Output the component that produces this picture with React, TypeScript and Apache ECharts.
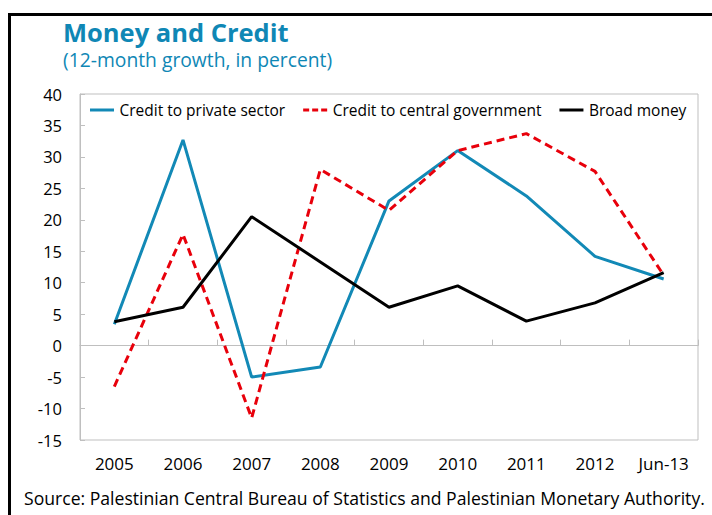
import React, { useEffect, useRef } from "react";
import * as echarts from "echarts";

const categories = ["2005", "2006", "2007", "2008", "2009", "2010", "2011", "2012", "Jun-13"];
const privateCredit = [3.4, 32.7, -5.0, -3.4, 23.0, 31.0, 23.8, 14.2, 10.6];
const govCredit = [-6.5, 17.7, -11.5, 28.0, 21.5, 31.0, 33.7, 27.7, 11.2];
const broadMoney = [3.8, 6.1, 20.5, 13.3, 6.1, 9.5, 3.9, 6.8, 11.6];
const yTicks = { min: -15, max: 40, interval: 5 };

const FONT = "'Open Sans', 'Noto Sans', sans-serif";
const SOLID_ICON = "path://M0,0H24V3H0Z";
const DASH_ICON = "path://M0,0H6V3H0Z M9,0H15V3H9Z M18,0H24V3H18Z";

export default function App() {
  const ref = useRef<HTMLDivElement>(null);
  useEffect(() => {
    if (!ref.current) return;
    const chart = echarts.init(ref.current, null, { renderer: "svg" });
    chart.setOption({
      animation: false,
      backgroundColor: "#fff",
      textStyle: { fontFamily: FONT },
      title: [
        {
          text: "Money and Credit",
          left: 63,
          top: 19,
          padding: 0,
          textStyle: { fontFamily: FONT, fontSize: 25.5, fontWeight: "bold", color: "#0F87B5" },
        },
        {
          text: "(12-month growth, in percent)",
          left: 63,
          top: 50,
          padding: 0,
          textStyle: { fontFamily: FONT, fontSize: 19.3, fontWeight: "normal", color: "#0F87B5" },
        },
        {
          text: "Source: Palestinian Central Bureau of Statistics and Palestinian Monetary Authority.",
          left: 19,
          top: 484,
          textStyle: { fontFamily: FONT, fontSize: 17.6, fontWeight: "normal", color: "#000" },
        },
      ],
      graphic: [
        {
          type: "rect",
          shape: { x: 9.5, y: 14.5, width: 720, height: 520 },
          style: { fill: "none", stroke: "#000", lineWidth: 3 },
          silent: true,
        },
      ],
      legend: {
        left: 85,
        top: 97,
        itemWidth: 25,
        itemHeight: 3,
        itemGap: 18,
        itemStyle: { borderWidth: 0 },
        textStyle: { fontFamily: FONT, fontSize: 15.5, color: "#000" },
        data: [
          { name: "Credit to private sector", icon: SOLID_ICON },
          { name: "Credit to central government", icon: DASH_ICON },
          { name: "Broad money", icon: SOLID_ICON },
        ],
      },
      grid: {
        left: 80,
        top: 94,
        right: 14,
        bottom: 75,
        show: true,
        borderColor: "#BFBFBF",
        borderWidth: 1,
      },
      xAxis: [
        {
          type: "category",
          data: categories,
          position: "bottom",
          axisLine: { show: false, onZero: false },
          axisTick: { show: false },
          axisLabel: { color: "#000", fontSize: 17, fontFamily: FONT, margin: 15 },
        },
        {
          type: "category",
          data: categories,
          position: "bottom",
          axisLine: { show: true, onZero: true, lineStyle: { color: "#BFBFBF", width: 1 } },
          axisTick: { show: true, inside: true, length: 6, lineStyle: { color: "#BFBFBF" } },
          axisLabel: { show: false },
        },
      ],
      yAxis: {
        type: "value",
        min: yTicks.min,
        max: yTicks.max,
        interval: yTicks.interval,
        axisLine: { show: true, lineStyle: { color: "#BFBFBF" } },
        axisTick: { show: true, inside: true, length: 5, lineStyle: { color: "#BFBFBF" } },
        splitLine: { show: false },
        axisLabel: { color: "#000", fontSize: 16.5, fontFamily: FONT, margin: 18 },
      },
      series: [
        {
          name: "Credit to private sector",
          type: "line",
          data: privateCredit,
          symbol: "none",
          lineStyle: { color: "#1289B6", width: 3 },
          itemStyle: { color: "#1289B6" },
        },
        {
          name: "Credit to central government",
          type: "line",
          data: govCredit,
          symbol: "none",
          lineStyle: { color: "#E8000B", width: 3, type: [8, 5] },
          itemStyle: { color: "#E8000B" },
        },
        {
          name: "Broad money",
          type: "line",
          data: broadMoney,
          symbol: "none",
          lineStyle: { color: "#000", width: 3 },
          itemStyle: { color: "#000" },
        },
      ],
    });
    return () => chart.dispose();
  }, []);
  return (
    <div
      ref={ref}
      style={{ position: "absolute", left: 0, top: 0, width: 712, height: 515 }}
    />
  );
}
